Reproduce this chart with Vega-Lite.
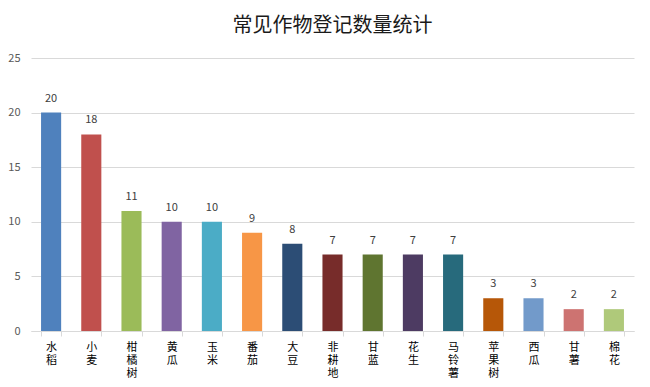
{
  "$schema": "https://vega.github.io/schema/vega-lite/v6.json",
  "width": 603,
  "height": 273,
  "autosize": {"type": "none"},
  "padding": {"left": 31, "top": 58, "right": 16, "bottom": 56},
  "background": "white",
  "title": {
    "text": "常见作物登记数量统计",
    "fontSize": 20,
    "fontWeight": "normal",
    "font": "Noto Sans CJK SC",
    "color": "#1a1a1a",
    "offset": 16,
    "anchor": "middle"
  },
  "config": {
    "view": {"stroke": null},
    "font": "Noto Sans CJK SC"
  },
  "data": {
    "values": [
      {"crop": "水稻", "count": 20, "color": "#4F81BD"},
      {"crop": "小麦", "count": 18, "color": "#C0504D"},
      {"crop": "柑橘树", "count": 11, "color": "#9BBB59"},
      {"crop": "黄瓜", "count": 10, "color": "#8064A2"},
      {"crop": "玉米", "count": 10, "color": "#4BACC6"},
      {"crop": "番茄", "count": 9, "color": "#F79646"},
      {"crop": "大豆", "count": 8, "color": "#2C4D75"},
      {"crop": "非耕地", "count": 7, "color": "#772C2A"},
      {"crop": "甘蓝", "count": 7, "color": "#5F7530"},
      {"crop": "花生", "count": 7, "color": "#4D3B62"},
      {"crop": "马铃薯", "count": 7, "color": "#276A7C"},
      {"crop": "苹果树", "count": 3, "color": "#B65708"},
      {"crop": "西瓜", "count": 3, "color": "#729ACA"},
      {"crop": "甘薯", "count": 2, "color": "#CD7371"},
      {"crop": "棉花", "count": 2, "color": "#AFC97A"}
    ]
  },
  "encoding": {
    "x": {
      "field": "crop",
      "type": "nominal",
      "sort": null,
      "scale": {"paddingInner": 0.5, "paddingOuter": 0.25},
      "axis": {
        "title": null,
        "labelAngle": 0,
        "labelExpr": "split(datum.label, '')",
        "labelFontSize": 11,
        "labelLineHeight": 13,
        "labelColor": "#000000",
        "labelBaseline": "top",
        "labelPadding": 5,
        "domainColor": "#d9d9d9",
        "tickColor": "#d9d9d9",
        "tickBand": "extent",
        "tickSize": 5,
        "grid": false
      }
    },
    "y": {
      "field": "count",
      "type": "quantitative",
      "scale": {"domain": [0, 25]},
      "axis": {
        "title": null,
        "values": [0, 5, 10, 15, 20, 25],
        "domain": false,
        "ticks": false,
        "labelPadding": 11,
        "labelFontSize": 11,
        "labelColor": "#595959",
        "gridColor": "#d9d9d9"
      }
    }
  },
  "layer": [
    {
      "mark": {"type": "bar"},
      "encoding": {
        "color": {"field": "color", "type": "nominal", "scale": null}
      }
    },
    {
      "mark": {"type": "text", "baseline": "bottom", "dy": -9, "fontSize": 11, "color": "#404040"},
      "encoding": {
        "text": {"field": "count", "type": "quantitative"}
      }
    }
  ]
}
